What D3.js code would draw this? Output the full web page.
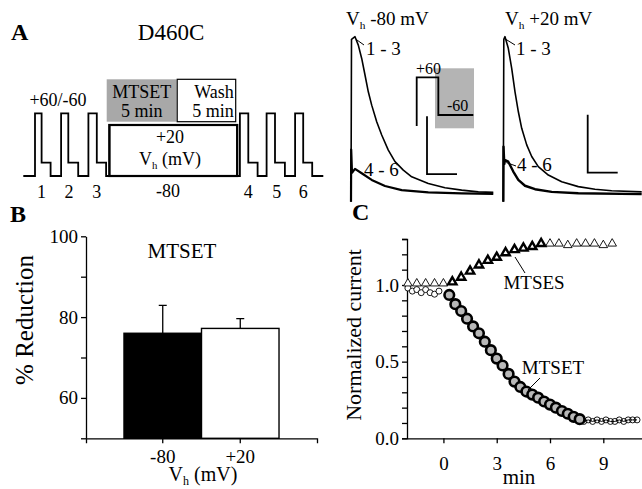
<!DOCTYPE html>
<meta charset="utf-8">
<style>
    body { margin: 0; background: #fff; }
    svg { font-family: "Liberation Serif", "Times New Roman", serif; }
    .axis path,
    .axis line {
        fill: none;
        stroke: #000;
        stroke-width: 1.3;
    }
    .axis text {
        font-family: "Liberation Serif", serif;
        font-size: 19px;
        fill: #000;
    }
    .proto, .trace, .bar-line {
        fill: none;
        stroke: #000;
    }
</style>
<svg id="fig" width="642" height="489"></svg>
<script src="https://cdn.jsdelivr.net/npm/d3@7/dist/d3.min.js"></script>
<script>

    // ---- A: voltage protocol (arbitrary time units, mV)
    var protoSteps = [[0,-80],[3.9,60],[6.1,-60],[9.1,-80],[12.6,60],[15,-60],[18.3,-80],[21.7,60],[24.5,-60],[27.6,-80],
                      [28.7,20],[71.3,-80],[72.2,60],[75,-60],[78.1,-80],[81.1,60],[83.9,-60],[87.2,-80],[90.6,60],[93.3,-60],[96.3,-80],[100,-80]];
    var protoLevels = [-80, -60, 20, 60];
    var pulseLabels = ["1", "2", "3", "4", "5", "6"];
    var pulseLabelT = [6.1, 15.2, 24.5, 75, 84.5, 93.3];
    var treatments = [{name: "MTSET", t0: 27.8, t1: 51.1}, {name: "Wash", t0: 51.3, t1: 70.8}];

    // ---- A: current sweeps (ms, nA)
    var tr80a = [[0,-0.3],[0.5,5.3],[4,5.39],[7.3,5.10],[10.7,4.64],[14,4.07],[17.3,3.49],[20.7,3.03],[25.7,2.46],[30.7,2.0],[37.3,1.48],
                 [44,1.08],[52.3,0.79],[60.7,0.56],[77.3,0.33],[94,0.18],[110.7,0.10],[127.3,0.04],[142.3,0.02]];
    var tr80b = [[0,-0.3],[0.2,1.5],[1,0.7],[4,0.83],[10.7,0.68],[20.7,0.45],[34,0.24],[50.7,0.1],[77.3,0.02],[110.7,-0.01],[142.3,-0.03]];
    var tr20a = [[0,-0.3],[0.5,5.3],[1.7,5.39],[5,4.99],[8.4,4.30],[11.7,3.49],[15,2.81],[18.4,2.23],[23.4,1.66],[28.4,1.26],[35,0.91],
                 [45,0.62],[58.4,0.39],[75,0.22],[91.7,0.13],[108.4,0.08],[138.4,0.04]];
    var tr20b = [[0,-0.3],[0.2,1.6],[1,1.0],[1.7,1.14],[5,1.08],[10,0.74],[15,0.45],[21.7,0.25],[31.7,0.13],[48.4,0.04],[75,-0.01],[138.4,-0.04]];
    var scaleBarNa = 2, scaleBarMs = 30;

    // ---- B: % reduction
    var bCats = ["-80", "+20"];
    var bMeans = [76, 77.2];
    var bErr = [6.9, 2.4];
    var bFill = ["#000", "#fff"];

    // ---- C: normalized current vs time (min)
    var mtsesPreT = [-2, -1.5, -1, -0.5, 0];
    var mtsesPre = [1.01, 1.01, 1.01, 1.01, 1.01];
    var mtsesT = [0.5, 1, 1.5, 2, 2.5, 3, 3.5, 4, 4.5, 5, 5.5];
    var mtses = [1.02, 1.05, 1.09, 1.13, 1.16, 1.18, 1.21, 1.23, 1.24, 1.25, 1.27];
    var mtsesPostT = [6, 6.5, 7, 7.5, 8, 8.5, 9, 9.5];
    var mtsesPost = [1.27, 1.27, 1.26, 1.27, 1.27, 1.27, 1.26, 1.27];
    var mtsetPreT = [-2, -1.75, -1.5, -1.25, -1, -0.75, -0.5, -0.25];
    var mtsetPre = [0.98, 0.96, 0.97, 0.95, 0.97, 0.95, 0.94, 0.96];
    var mtsetT = [0.33, 0.67, 1, 1.33, 1.67, 2, 2.33, 2.67, 3, 3.33, 3.67, 4, 4.33, 4.67, 5, 5.33, 5.67, 6, 6.33, 6.67, 7, 7.33, 7.67];
    var mtset = [0.935, 0.875, 0.83, 0.78, 0.73, 0.685, 0.63, 0.575, 0.52, 0.475, 0.42, 0.37, 0.335, 0.305, 0.285, 0.265, 0.24, 0.22, 0.2, 0.178, 0.16, 0.14, 0.125];
    var mtsetPostT = [7.9, 8.15, 8.4, 8.65, 8.9, 9.15, 9.4, 9.65, 9.9, 10.15, 10.4, 10.65, 10.9];
    var mtsetPost = [0.11, 0.12, 0.11, 0.12, 0.11, 0.12, 0.11, 0.11, 0.12, 0.11, 0.12, 0.12, 0.12];

    var svg = d3.select("#fig");
    svg.append("rect").attr("width", 642).attr("height", 489).attr("fill", "#fff");

    function txt(g, x, y, s, size, anchor) {
        return g.append("text")
            .attr("x", x).attr("y", y)
            .attr("font-size", size)
            .attr("text-anchor", anchor || "middle")
            .text(s);
    }
    // "V" with subscript h, then the rest
    function vh(g, x, y, rest, size, anchor) {
        var t = g.append("text").attr("x", x).attr("y", y)
            .attr("font-size", size).attr("text-anchor", anchor || "start");
        t.append("tspan").text("V");
        t.append("tspan").attr("font-size", size * 0.6).attr("dy", 4).text("h");
        t.append("tspan").attr("dy", -4).text(rest);
        return t;
    }

    // ================= Panel A =================
    var gA = svg.append("g");
    txt(gA, 11, 40, "A", 24, "start").attr("font-weight", "bold");
    txt(gA, 171, 40, "D460C", 23);

    var xP = d3.scaleLinear().domain([0, 100]).range([23.3, 323.3]);
    var yP = d3.scaleOrdinal().domain(protoLevels).range([176, 162.7, 125, 113.3]);

    // treatment boxes
    gA.append("rect")
        .attr("x", xP(treatments[0].t0)).attr("y", 79.3)
        .attr("width", xP(treatments[0].t1) - xP(treatments[0].t0)).attr("height", 42.4)
        .attr("fill", "#a8a8a8");
    gA.append("rect")
        .attr("x", xP(treatments[1].t0)).attr("y", 79.3)
        .attr("width", xP(treatments[1].t1) - xP(treatments[1].t0)).attr("height", 42.4)
        .attr("fill", "#fff").attr("stroke", "#000").attr("stroke-width", 1.2);
    var mx = (xP(treatments[0].t0) + xP(treatments[0].t1)) / 2;
    txt(gA, mx, 98, treatments[0].name, 18);
    txt(gA, mx, 117, "5 min", 18);
    var wx = xP(treatments[1].t1) - 2;
    txt(gA, wx, 98, treatments[1].name, 18, "end");
    txt(gA, wx, 117, "5 min", 18, "end");

    // holding box (+20)
    gA.append("rect")
        .attr("x", xP(28.7)).attr("y", yP(20))
        .attr("width", xP(71.3) - xP(28.7)).attr("height", yP(-80) - yP(20))
        .attr("fill", "#fff").attr("stroke", "#000").attr("stroke-width", 2.2);

    gA.append("path")
        .attr("class", "proto")
        .attr("stroke-width", 1.8)
        .attr("d", d3.line().curve(d3.curveStepAfter)
            .x(function(d) { return xP(d[0]); })
            .y(function(d) { return yP(d[1]); })(protoSteps));

    txt(gA, 58, 106, "+60/-60", 18);
    txt(gA, 170, 143, "+20", 18);
    vh(gA, 170, 165, " (mV)", 18, "middle");
    txt(gA, 168, 197, "-80", 18);
    pulseLabels.forEach(function(l, i) {
        txt(gA, xP(pulseLabelT[i]), 198, l, 18);
    });

    // sweeps
    var yT = d3.scaleLinear().domain([0, 5.4]).range([193, 36.4]);
    var xT80 = d3.scaleLinear().domain([0, 142]).range([351, 493]);
    var xT20 = d3.scaleLinear().domain([0, 139]).range([503.3, 642.3]);

    function sweep(xs, data, w) {
        gA.append("path")
            .attr("class", "trace")
            .attr("stroke-width", w)
            .attr("stroke-linejoin", "round")
            .attr("d", d3.line()
                .x(function(d) { return xs(d[0]); })
                .y(function(d) { return yT(d[1]); })(data));
    }
    sweep(xT80, tr80a, 1.6);
    sweep(xT80, tr80b, 2.2);
    sweep(xT20, tr20a, 1.6);
    sweep(xT20, tr20b, 2.4);

    vh(gA, 346, 25, " -80 mV", 19);
    vh(gA, 505, 25, " +20 mV", 19);

    // sweep labels + leaders
    txt(gA, 366, 55, "1 - 3", 19, "start");
    txt(gA, 364, 176, "4 - 6", 19, "start");
    txt(gA, 516, 55, "1 - 3", 19, "start");
    txt(gA, 517, 171, "4 - 6", 19, "start");
    [[xT80(5), yT(5.3), 364, 45], [xT20(2.5), yT(5.3), 515, 45], [xT20(3), yT(1.05), 516, 166]].forEach(function(l) {
        gA.append("line").attr("x1", l[0]).attr("y1", l[1]).attr("x2", l[2]).attr("y2", l[3])
            .attr("stroke", "#000").attr("stroke-width", 1);
    });

    // inset step
    gA.append("rect").attr("x", 435).attr("y", 68.3).attr("width", 39).attr("height", 60).attr("fill", "#b4b4b4");
    var xI = d3.scaleLinear().domain([0, 34]).range([416.7, 473.3]);
    var yI = d3.scaleOrdinal().domain([-80, -60, 60]).range([126, 115, 77.3]);
    gA.append("path")
        .attr("class", "proto").attr("stroke-width", 1.8)
        .attr("d", d3.line().curve(d3.curveStepAfter)
            .x(function(d) { return xI(d[0]); })
            .y(function(d) { return yI(d[1]); })([[0,-80],[0,60],[13,-60],[34,-60]]));
    txt(gA, 416, 74, "+60", 16, "start");
    txt(gA, 447, 111, "-60", 16, "start");

    // scale bars
    function scaleBar(xs, t0, i0) {
        gA.append("path")
            .attr("class", "proto").attr("stroke-width", 1.8)
            .attr("d", "M" + xs(t0) + "," + yT(i0 + scaleBarNa) +
                       "V" + yT(i0) + "H" + xs(t0 + scaleBarMs));
    }
    scaleBar(xT80, 76, 0.65);
    scaleBar(xT20, 84.4, 0.70);

    // ================= Panel B =================
    var gB = svg.append("g");
    txt(gB, 10, 222, "B", 24, "start").attr("font-weight", "bold");

    var yB = d3.scaleLinear().domain([50, 100]).range([438.3, 236.3]);
    var xB = d3.scaleBand().domain(bCats).range([86, 317]).paddingOuter(0.49).paddingInner(0);

    gB.selectAll(".bar").data(bCats).enter().append("rect")
        .attr("class", "bar")
        .attr("x", function(d) { return xB(d); })
        .attr("y", function(d, i) { return yB(bMeans[i]); })
        .attr("width", xB.bandwidth())
        .attr("height", function(d, i) { return yB(50) - yB(bMeans[i]); })
        .attr("fill", function(d, i) { return bFill[i]; })
        .attr("stroke", "#000").attr("stroke-width", 1.4);

    bCats.forEach(function(c, i) {
        var cx = xB(c) + xB.bandwidth() / 2;
        gB.append("path").attr("class", "bar-line").attr("stroke-width", 1.3)
            .attr("d", "M" + cx + "," + yB(bMeans[i]) + "V" + yB(bMeans[i] + bErr[i]) +
                       "M" + (cx - 4) + "," + yB(bMeans[i] + bErr[i]) + "H" + (cx + 4));
    });

    gB.append("g").attr("class", "axis")
        .attr("transform", "translate(86,0)")
        .call(d3.axisLeft(yB).tickValues([50, 60, 70, 80, 90, 100]).tickSize(5).tickSizeOuter(0).tickPadding(3)
            .tickFormat(function(d) { return d % 20 === 0 && d > 50 ? d : ""; }));
    gB.append("g").attr("class", "axis")
        .attr("transform", "translate(0,438.3)")
        .call(d3.axisBottom(xB).tickSize(5).tickSizeOuter(5).tickPadding(6));

    txt(gB, 182, 258, "MTSET", 21);
    txt(gB, 0, 0, "% Reduction", 25)
        .attr("transform", "translate(33,320) rotate(-90)");
    vh(gB, 203, 481, " (mV)", 20, "middle");

    // ================= Panel C =================
    var gC = svg.append("g");
    txt(gC, 352, 220, "C", 24, "start").attr("font-weight", "bold");

    var xC = d3.scaleLinear().domain([-2.05, 11.15]).range([407, 641.5]);
    var yC = d3.scaleLinear().domain([0, 1.3]).range([438.3, 239]);

    gC.append("g").attr("class", "axis")
        .attr("transform", "translate(407,0)")
        .call(d3.axisLeft(yC).tickValues(d3.range(0, 1.31, 0.1)).tickSizeOuter(0).tickPadding(3)
            .tickSize(5)
            .tickFormat(function(d) { var r = Math.round(d * 10); return r % 5 === 0 ? d3.format(".1f")(d) : ""; }));
    gC.append("g").attr("class", "axis")
        .attr("transform", "translate(0,438.3)")
        .call(d3.axisBottom(xC).tickValues([0, 3, 6, 9]).tickSize(5).tickSizeOuter(0).tickPadding(13));

    txt(gC, 0, 0, "Normalized current", 22)
        .attr("transform", "translate(361,335) rotate(-90)");
    txt(gC, 519, 484, "min", 21);

    function pts(ts, vs) { return ts.map(function(t, i) { return [t, vs[i]]; }); }
    var tri = d3.symbol().type(d3.symbolTriangle);

    // open circles before / after
    gC.selectAll(".oc1").data(pts(mtsetPreT, mtsetPre)).enter().append("circle")
        .attr("cx", function(d) { return xC(d[0]); }).attr("cy", function(d) { return yC(d[1]); })
        .attr("r", 3).attr("fill", "#fff").attr("stroke", "#000").attr("stroke-width", 0.9);
    gC.append("path").attr("class", "trace").attr("stroke-width", 1)
        .attr("d", d3.line().x(function(d) { return xC(d[0]); }).y(function(d) { return yC(d[1]); })(pts(mtsetPostT, mtsetPost)));
    gC.selectAll(".oc2").data(pts(mtsetPostT, mtsetPost)).enter().append("circle")
        .attr("cx", function(d) { return xC(d[0]); }).attr("cy", function(d) { return yC(d[1]); })
        .attr("r", 3).attr("fill", "none").attr("stroke", "#000").attr("stroke-width", 0.9);

    // triangles
    gC.selectAll(".ot").data(pts(mtsesPreT, mtsesPre).concat(pts(mtsesPostT, mtsesPost))).enter().append("path")
        .attr("d", tri.size(32))
        .attr("transform", function(d) { return "translate(" + xC(d[0]) + "," + yC(d[1]) + ")"; })
        .attr("fill", "#fff").attr("stroke", "#000").attr("stroke-width", 0.9);
    gC.selectAll(".ft").data(pts(mtsesT, mtses)).enter().append("path")
        .attr("d", tri.size(30))
        .attr("transform", function(d) { return "translate(" + xC(d[0]) + "," + yC(d[1]) + ")"; })
        .attr("fill", "#fff").attr("stroke", "#000").attr("stroke-width", 2.4).attr("stroke-linejoin", "miter");

    // filled circles
    gC.selectAll(".fc").data(pts(mtsetT, mtset)).enter().append("circle")
        .attr("cx", function(d) { return xC(d[0]); }).attr("cy", function(d) { return yC(d[1]); })
        .attr("r", 4.8).attr("fill", "#b8b8b8").attr("stroke", "#000").attr("stroke-width", 2.6);

    // labels with leaders
    txt(gC, 534, 289, "MTSES", 19);
    gC.append("line").attr("x1", 525).attr("y1", 273).attr("x2", 515).attr("y2", 257)
        .attr("stroke", "#000").attr("stroke-width", 1);
    txt(gC, 553, 374, "MTSET", 19);
    gC.append("line").attr("x1", 540).attr("y1", 378).attr("x2", 528).attr("y2", 390)
        .attr("stroke", "#000").attr("stroke-width", 1);

</script>
